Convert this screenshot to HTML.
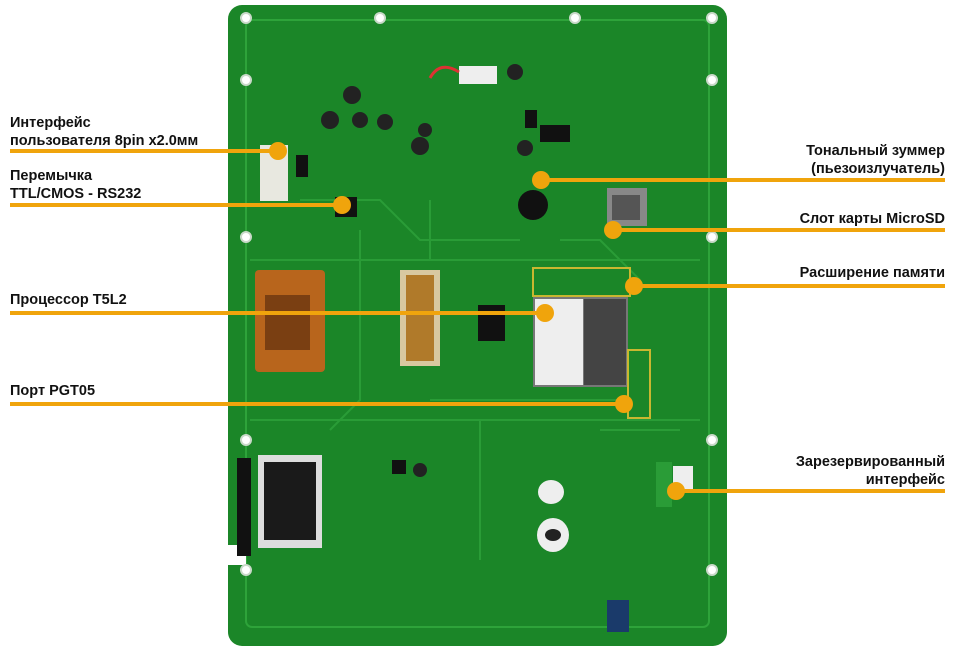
<!DOCTYPE html>
<html><head><meta charset="utf-8"><style>
html,body{margin:0;padding:0;background:#fff;}
body{width:955px;height:650px;overflow:hidden;position:relative;font-family:"Liberation Sans",sans-serif;}
svg{position:absolute;left:0;top:0;}
.t{position:absolute;font-weight:bold;font-size:14.5px;color:#111;line-height:18px;white-space:nowrap;}
.r{text-align:right;right:10px;}
</style></head><body>
<svg width="955" height="650" viewBox="0 0 955 650">
<rect x="228" y="5" width="499" height="641" rx="14" fill="#1b8628"/>
<rect x="246" y="20" width="463" height="607" rx="6" fill="none" stroke="#2ea33a" stroke-width="2"/>
<path d="M228 545 h18 v20 h-18z" fill="#fff"/>
<g stroke="#2a9c37" stroke-width="2" fill="none">
<path d="M300 200 L380 200 L420 240 L520 240"/><path d="M360 230 L360 400 L330 430"/>
<path d="M430 200 L430 260"/><path d="M560 240 L600 240 L640 280"/>
<path d="M480 420 L480 560"/><path d="M600 430 L680 430"/><path d="M430 400 L620 400"/>
<path d="M250 260 L700 260"/><path d="M250 420 L700 420"/>
</g>
<g fill="#fff" stroke="#c9d9c9" stroke-width="2">
<circle cx="246" cy="18" r="5"/><circle cx="380" cy="18" r="5"/><circle cx="575" cy="18" r="5"/><circle cx="712" cy="18" r="5"/>
<circle cx="246" cy="80" r="5"/><circle cx="712" cy="80" r="5"/><circle cx="246" cy="237" r="5"/><circle cx="712" cy="237" r="5"/>
<circle cx="246" cy="440" r="5"/><circle cx="712" cy="440" r="5"/><circle cx="246" cy="570" r="5"/><circle cx="712" cy="570" r="5"/>
</g>
<rect x="255" y="270" width="70" height="102" rx="4" fill="#b8651c"/>
<rect x="265" y="295" width="45" height="55" fill="#7a3f12"/>
<rect x="400" y="270" width="40" height="96" fill="#d8c8a0"/>
<rect x="406" y="275" width="28" height="86" fill="#b07a2a"/>
<rect x="478" y="305" width="27" height="36" fill="#111"/>
<rect x="533" y="297" width="95" height="90" fill="#777"/>
<rect x="535" y="299" width="48" height="86" fill="#eee"/>
<rect x="584" y="299" width="42" height="86" fill="#444"/>
<rect x="533" y="268" width="97" height="28" fill="none" stroke="#c9b730" stroke-width="2"/>
<rect x="628" y="350" width="22" height="68" fill="none" stroke="#c9b730" stroke-width="2"/>
<rect x="237" y="458" width="14" height="98" fill="#111"/>
<rect x="258" y="455" width="64" height="93" fill="#ddd"/>
<rect x="264" y="462" width="52" height="78" fill="#1a1a1a"/>
<rect x="260" y="145" width="28" height="56" fill="#e8e8e0"/>
<rect x="296" y="155" width="12" height="22" fill="#111"/>
<rect x="335" y="197" width="22" height="20" fill="#111"/>
<rect x="459" y="66" width="38" height="18" fill="#eee"/>
<path d="M430 78 Q440 60 459 72" stroke="#d33" stroke-width="3" fill="none"/>
<circle cx="330" cy="120" r="9" fill="#222"/><circle cx="352" cy="95" r="9" fill="#222"/><circle cx="360" cy="120" r="8" fill="#222"/><circle cx="385" cy="122" r="8" fill="#222"/><circle cx="420" cy="146" r="9" fill="#222"/><circle cx="425" cy="130" r="7" fill="#222"/>
<circle cx="515" cy="72" r="8" fill="#222"/><circle cx="525" cy="148" r="8" fill="#222"/>
<circle cx="533" cy="205" r="15" fill="#111"/>
<rect x="540" y="125" width="30" height="17" fill="#111"/>
<rect x="525" y="110" width="12" height="18" fill="#111"/>
<rect x="607" y="188" width="40" height="38" fill="#888"/>
<rect x="612" y="195" width="28" height="25" fill="#555"/>
<rect x="392" y="460" width="14" height="14" fill="#111"/>
<circle cx="420" cy="470" r="7" fill="#222"/>
<ellipse cx="551" cy="492" rx="13" ry="12" fill="#eee"/>
<ellipse cx="553" cy="535" rx="16" ry="17" fill="#eee"/><ellipse cx="553" cy="535" rx="8" ry="6" fill="#222"/>
<rect x="656" y="462" width="16" height="45" fill="#2a9c37"/>
<rect x="673" y="466" width="20" height="24" fill="#eee"/>
<rect x="607" y="600" width="22" height="32" fill="#1a3a6a"/>
<g stroke="#f0a40c" stroke-width="4">
<line x1="10" y1="151" x2="278" y2="151"/>
<line x1="10" y1="205" x2="342" y2="205"/>
<line x1="10" y1="313" x2="545" y2="313"/>
<line x1="10" y1="404" x2="624" y2="404"/>
<line x1="541" y1="180" x2="945" y2="180"/>
<line x1="613" y1="230" x2="945" y2="230"/>
<line x1="634" y1="286" x2="945" y2="286"/>
<line x1="676" y1="491" x2="945" y2="491"/>
</g>
<g fill="#f0a40c">
<circle cx="278" cy="151" r="9"/><circle cx="342" cy="205" r="9"/><circle cx="545" cy="313" r="9"/><circle cx="624" cy="404" r="9"/>
<circle cx="541" cy="180" r="9"/><circle cx="613" cy="230" r="9"/><circle cx="634" cy="286" r="9"/><circle cx="676" cy="491" r="9"/>
</g>
</svg>
<div class="t" style="left:10px;top:114px">Интерфейс<br>пользователя 8pin x2.0мм</div>
<div class="t" style="left:10px;top:167px">Перемычка<br>TTL/CMOS - RS232</div>
<div class="t" style="left:10px;top:291px">Процессор T5L2</div>
<div class="t" style="left:10px;top:382px">Порт PGT05</div>
<div class="t r" style="top:142px">Тональный зуммер<br>(пьезоизлучатель)</div>
<div class="t r" style="top:210px">Слот карты MicroSD</div>
<div class="t r" style="top:264px">Расширение памяти</div>
<div class="t r" style="top:453px">Зарезервированный<br>интерфейс</div>
</body></html>
